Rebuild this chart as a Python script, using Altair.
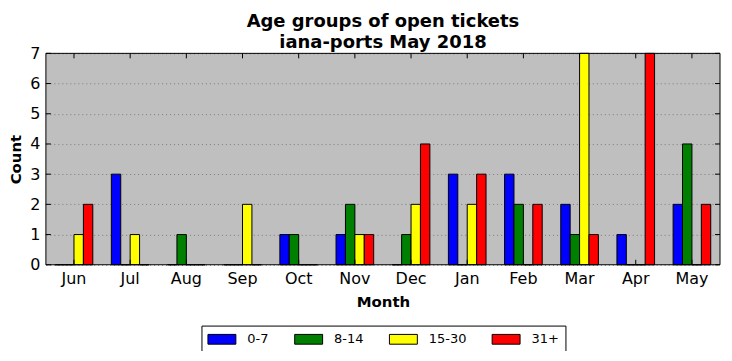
import altair as alt
import pandas as pd

months = ["Jun", "Jul", "Aug", "Sep", "Oct", "Nov", "Dec", "Jan", "Feb", "Mar", "Apr", "May"]
ages = ["0-7", "8-14", "15-30", "31+"]
colors = ["#0000ff", "#008000", "#ffff00", "#ff0000"]
v_0_7 = [0, 3, 0, 0, 1, 1, 0, 3, 3, 2, 1, 2]
v_8_14 = [0, 0, 1, 0, 1, 2, 1, 0, 2, 1, 0, 4]
v_15_30 = [1, 1, 0, 2, 0, 1, 2, 2, 0, 7, 0, 0]
v_31 = [2, 0, 0, 0, 0, 1, 4, 3, 2, 1, 7, 2]
y_ticks = [0, 1, 2, 3, 4, 5, 6, 7]

rows = []
for age, vals in zip(ages, [v_0_7, v_8_14, v_15_30, v_31]):
    for m, v in zip(months, vals):
        rows.append({"Month": m, "Age": age, "Count": v})
df = pd.DataFrame(rows)
mdf = pd.DataFrame({"Month": months})
ydf = pd.DataFrame({"Count": y_ticks})

W, H = 676, 212
FONT = "DejaVu Sans"

xaxis = alt.Axis(title="Month", labelAngle=0, tickSize=0, labelPadding=6,
                 domain=False, grid=False, titlePadding=8,
                 labelFont=FONT, labelFontSize=16, labelColor="black",
                 titleFont=FONT, titleFontSize=15, titleFontWeight="bold",
                 titleColor="black")
yaxis = alt.Axis(title="Count", values=y_ticks, tickCount=8, tickSize=0, labelPadding=6,
                 labelOverlap=False, labelFlush=False,
                 domain=False, grid=True, gridDash=[1, 3], gridColor="#7a7a7a",
                 gridWidth=1, titlePadding=6,
                 labelFont=FONT, labelFontSize=16, labelColor="black",
                 titleFont=FONT, titleFontSize=15, titleFontWeight="bold",
                 titleColor="black")
xscale = alt.Scale(paddingInner=0.33, paddingOuter=0.165)
yscale = alt.Scale(domain=[0, 7], nice=False)

bars = alt.Chart(df).mark_bar(stroke="black", strokeWidth=1, opacity=1).encode(
    x=alt.X("Month:N", sort=months, scale=xscale, axis=xaxis),
    xOffset=alt.XOffset("Age:N", sort=ages, scale=alt.Scale(paddingInner=0, paddingOuter=0)),
    y=alt.Y("Count:Q", scale=yscale, axis=yaxis),
    color=alt.Color("Age:N", sort=ages, scale=alt.Scale(domain=ages, range=colors),
                    legend=alt.Legend(title=None, orient="none", direction="horizontal",
                                      legendX=156, legendY=273,
                                      symbolType="M-1,-0.7H3V0.7H-1Z", symbolSize=196,
                                      symbolStrokeColor="black", symbolStrokeWidth=1,
                                      symbolOpacity=1,
                                      labelFont=FONT, labelFontSize=13, labelColor="black",
                                      labelOffset=25, columnPadding=23, padding=6,
                                      strokeColor="black", fillColor="white",
                                      cornerRadius=0)),
)

xt_bottom = alt.Chart(mdf).mark_rule(color="black", strokeWidth=1).encode(
    x=alt.X("Month:N", sort=months, scale=xscale, axis=xaxis), y=alt.value(H), y2=alt.value(H - 5))
xt_top = alt.Chart(mdf).mark_rule(color="black", strokeWidth=1).encode(
    x=alt.X("Month:N", sort=months, scale=xscale, axis=xaxis), y=alt.value(0), y2=alt.value(5))
yt_left = alt.Chart(ydf).mark_rule(color="black", strokeWidth=1).encode(
    y=alt.Y("Count:Q", scale=yscale, axis=yaxis), x=alt.value(0), x2=alt.value(5))
yt_right = alt.Chart(ydf).mark_rule(color="black", strokeWidth=1).encode(
    y=alt.Y("Count:Q", scale=yscale, axis=yaxis), x=alt.value(W), x2=alt.value(W - 5))
frame = alt.Chart(pd.DataFrame({"a": [0]})).mark_rect(
    fill=None, fillOpacity=0, stroke="black", strokeWidth=1).encode(
    x=alt.value(0), x2=alt.value(W), y=alt.value(0), y2=alt.value(H))

chart = alt.layer(bars, xt_bottom, xt_top, yt_left, yt_right, frame).properties(
    width=W, height=H,
    title=alt.Title(["Age groups of open tickets", "iana-ports May 2018"],
                    font=FONT, fontSize=18, fontWeight="bold", color="black",
                    anchor="middle", lineHeight=21, offset=2, dy=9),
    autosize=alt.AutoSizeParams(type="none"),
    padding={"left": 38, "top": 45, "right": 4, "bottom": 86},
).configure(
    background="white"
).configure_view(
    fill="#bfbfbf", stroke=None
)

chart.save("out.html", embed_options={"renderer": "svg", "actions": False})
